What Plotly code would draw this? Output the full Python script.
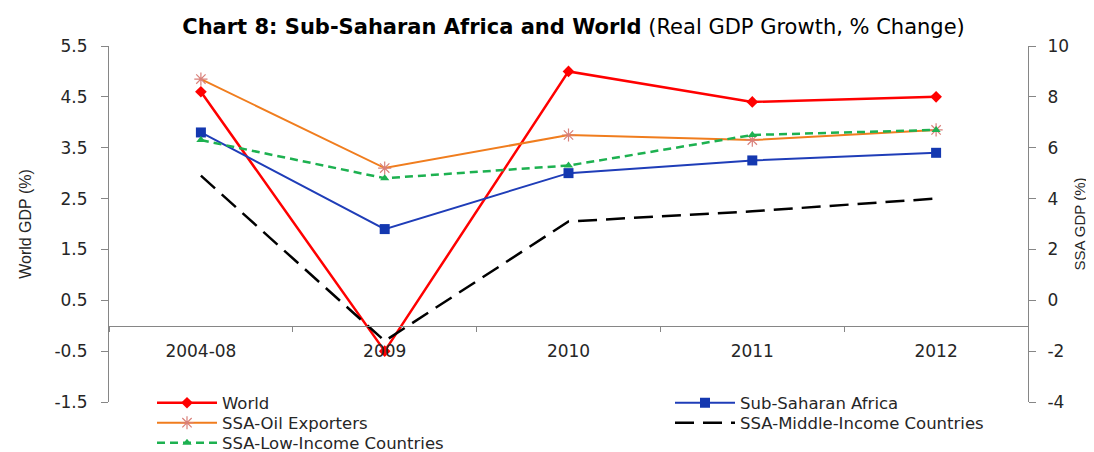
import plotly.graph_objects as go

categories = ["2004-08", "2009", "2010", "2011", "2012"]
world = [4.6, -0.5, 5.0, 4.4, 4.5]
ssa = [6.6, 2.8, 5.0, 5.5, 5.8]
oil = [8.7, 5.2, 6.5, 6.3, 6.7]
middle = [4.9, -1.6, 3.1, 3.5, 4.0]
low = [6.3, 4.8, 5.3, 6.5, 6.7]

left_ticks = [-1.5, -0.5, 0.5, 1.5, 2.5, 3.5, 4.5, 5.5]
right_ticks = [-4, -2, 0, 2, 4, 6, 8, 10]

# the page body has an 8px margin, so the figure is drawn 8px smaller
# and all positions below are given in figure pixels (page pixels - 8)
OFF = 8
W, H = 1094 - OFF, 452 - OFF
ml, mt = 109 - OFF, 46 - OFF
mr, mb = 66, 50
pw = W - ml - mr
ph = H - mt - mb
zero_frac = (0 - (-1.5)) / (5.5 - (-1.5))

font_main = "DejaVu Sans"
tick_font = dict(family=font_main, size=17, color="#262626")
gray = "#868686"


def px_x(px):
    return (px - ml) / pw


def px_y(py):
    return (H - mb - py) / ph


fig = go.Figure()
fig.add_trace(go.Scatter(x=categories, y=world, name="World", mode="lines+markers",
                         line=dict(color="#FF0000", width=2.5),
                         marker=dict(symbol="diamond", size=9, color="#FF0000"),
                         yaxis="y", legend="legend"))
fig.add_trace(go.Scatter(x=categories, y=ssa, name="Sub-Saharan Africa", mode="lines+markers",
                         line=dict(color="#1F3DB8", width=2),
                         marker=dict(symbol="square", size=10, color="#1438B0"),
                         yaxis="y2", legend="legend2"))
fig.add_trace(go.Scatter(x=categories, y=oil, name="SSA-Oil Exporters", mode="lines+markers",
                         line=dict(color="#F07D1E", width=2),
                         marker=dict(symbol="asterisk-open", size=11, color="#D9807A",
                                     line=dict(color="#D9807A", width=1.2)),
                         yaxis="y2", legend="legend3"))
fig.add_trace(go.Scatter(x=categories, y=middle, name="SSA-Middle-Income Countries", mode="lines",
                         line=dict(color="#000000", width=2.5, dash="19px,9px"),
                         yaxis="y2", legend="legend4"))
fig.add_trace(go.Scatter(x=categories, y=low, name="SSA-Low-Income Countries", mode="lines+markers",
                         line=dict(color="#1DB150", width=2.5, dash="8px,5px"),
                         marker=dict(symbol="triangle-up", size=8, color="#1DB150"),
                         yaxis="y2", legend="legend5"))

leg_font = dict(family=font_main, size=16.5, color="#262626")


def leg(xpx, ypx):
    return dict(x=px_x(xpx), xanchor="left", y=px_y(ypx), yanchor="middle",
                itemwidth=60, font=leg_font, bgcolor="rgba(0,0,0,0)")


col1, col2 = 144, 662
row1, row2, row3 = 395, 415, 435

fig.update_layout(
    width=W, height=H,
    margin=dict(l=ml, r=mr, t=mt, b=mb, autoexpand=False),
    plot_bgcolor="white", paper_bgcolor="white",
    title=dict(
        text="<b>Chart 8: Sub-Saharan Africa and World</b> (Real GDP Growth, % Change)",
        x=(573.5 - OFF) / W, xanchor="center", y=1 - (27 - OFF) / H, yanchor="middle",
        font=dict(family=font_main, size=21, color="#000000")),
    xaxis=dict(type="category", range=[-0.5, 4.5], anchor="free", position=zero_frac,
               showline=True, linecolor=gray, linewidth=1,
               ticks="outside", tickson="boundaries", ticklen=5, tickcolor=gray,
               ticklabelstandoff=10,
               showgrid=False, zeroline=False, tickfont=tick_font),
    yaxis=dict(range=[-1.5, 5.5], tickvals=left_ticks, ticktext=[f"{v:.1f}" for v in left_ticks],
               showline=True, linecolor=gray, linewidth=1, ticks="outside", ticklen=7,
               tickcolor=gray, showgrid=False, zeroline=False, tickfont=tick_font,
               ticklabelstandoff=10,
               title=dict(text="World GDP (%)", standoff=18,
                          font=dict(family="Liberation Sans", size=16, color="#262626"))),
    yaxis2=dict(range=[-4, 10], tickvals=right_ticks, ticktext=[str(v) for v in right_ticks],
                overlaying="y", side="right",
                showline=True, linecolor=gray, linewidth=1, ticks="outside", ticklen=7,
                tickcolor=gray, showgrid=False, zeroline=False, tickfont=tick_font,
                ticklabelstandoff=8,
                title=dict(text="SSA GDP (%)", standoff=6,
                           font=dict(family="Liberation Sans", size=15, color="#262626"))),
    legend=leg(col1, row1),
    legend2=leg(col2, row1),
    legend3=leg(col1, row2),
    legend4=leg(col2, row2),
    legend5=leg(col1, row3),
    showlegend=True,
)

fig.write_html("out.html")
